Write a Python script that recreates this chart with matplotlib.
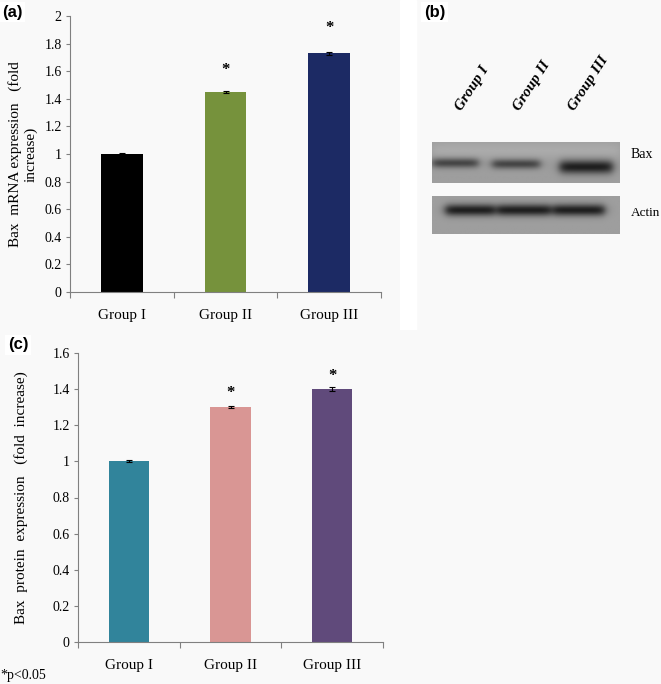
import numpy as np
import matplotlib.pyplot as plt
import matplotlib as mpl

mpl.rcParams['font.family'] = 'Liberation Serif'

# data
groups = ['Group I', 'Group II', 'Group III']
mrna = [1.0, 1.45, 1.73]
mrna_err = [0.005, 0.01, 0.012]
mrna_star = [None, 1.61, 1.91]
prot = [1.0, 1.30, 1.40]
prot_err = [0.005, 0.007, 0.012]
prot_star = [None, 1.38, 1.47]
mrna_cols = ['#000000', '#76923c', '#1c2a64']
prot_cols = ['#31849b', '#d99694', '#604a7b']
blot_rows = ['Bax', 'Actin']

W, H = 661, 684
fig = plt.figure(figsize=(W / 100, H / 100), dpi=100, facecolor='#f9f9f9')


def px_axes(x0, y0, x1, y1):
    ax = fig.add_axes([x0 / W, 1 - y1 / H, (x1 - x0) / W, (y1 - y0) / H])
    ax.set_facecolor('none')
    return ax


def bar_panel(ax, vals, errs, stars, cols, ymax, ystep, ylabel, labx):
    x = np.arange(len(vals)) + 0.5
    ax.bar(x, vals, width=0.4, color=cols, yerr=errs, capsize=2.5,
           error_kw=dict(elinewidth=0.8, capthick=0.8, ecolor='black'))
    for xi, s in zip(x, stars):
        if s is not None:
            ax.text(xi, s, '*', ha='center', va='center', fontsize=12, fontweight='bold')
    ax.set_xlim(0, 3)
    ax.set_ylim(0, ymax)
    ax.set_xticks([0, 1, 2, 3])
    ax.set_xticklabels([])
    ax.set_xticks(x, minor=True)
    ax.set_xticklabels(groups, minor=True, fontsize=11)
    ax.tick_params(axis='x', which='minor', length=0, pad=12)
    ax.tick_params(axis='x', which='major', length=4, color='#808080')
    ticks = np.round(np.arange(0, ymax + 1e-9, ystep), 1)
    ax.set_yticks(ticks)
    ax.set_yticklabels(['%g' % t for t in ticks], fontsize=10)
    ax.tick_params(axis='y', length=3, color='#808080', pad=3)
    for s in ['top', 'right']:
        ax.spines[s].set_visible(False)
    for s in ['left', 'bottom']:
        ax.spines[s].set_color('#808080')
    ax.set_ylabel(ylabel, fontsize=11)
    ax.yaxis.set_label_coords(labx, 0.5)


ax_a = px_axes(70, 16, 381, 292)
bar_panel(ax_a, mrna, mrna_err, mrna_star, mrna_cols, 2, 0.2,
          'Bax  mRNA expression   (fold\nincrease)', -0.103)

ax_c = px_axes(78, 353, 383, 642)
bar_panel(ax_c, prot, prot_err, prot_star, prot_cols, 1.6, 0.2,
          'Bax  protein  expression   (fold  increase)', -0.164)

# panel b: blot picture
ax_b = px_axes(400, 0, 661, 330)
ax_b.set_xlim(400, 661)
ax_b.set_ylim(330, 0)
ax_b.axis('off')
ax_b.add_patch(plt.Rectangle((400, 0), 16, 330, color='white', zorder=0))


def blot(x0, x1, y0, y1, bands):
    xs = np.linspace(x0, x1, 200)
    ys = np.linspace(y0, y1, 60)
    X, Y = np.meshgrid(xs, ys)
    img = np.full(X.shape, 0.62)
    for bx0, bx1, by, bh, depth in bands:
        lane = 1 / (1 + np.exp(-(X - bx0) / 2.5)) * 1 / (1 + np.exp((X - bx1) / 2.5))
        img -= depth * lane * np.exp(-((Y - by) / bh) ** 2)
    ax_b.imshow(np.clip(img, 0.1, 1), cmap='gray', vmin=0, vmax=1, extent=(x0, x1, y1, y0),
                aspect='auto', interpolation='bilinear', zorder=1)


blot(432, 620, 142, 183, [(432, 478, 163, 5, 0.35), (492, 540, 164, 5, 0.35),
                          (560, 613, 167, 7, 0.5), (432, 620, 150, 8, -0.05)])
blot(432, 620, 196, 234, [(445, 495, 210, 6, 0.5), (497, 551, 210, 6, 0.5),
                          (553, 605, 210, 6, 0.5)])
ax_b.text(631, 155, blot_rows[0], fontsize=10, va='center', ha='left')
ax_b.text(631, 213, blot_rows[1], fontsize=9.5, va='center', ha='left')
for gx, g in zip([464, 522, 577], groups):
    ax_b.text(gx, 113, g, rotation=57, rotation_mode='anchor', ha='left', va='bottom',
              fontsize=11, fontweight='bold', fontstyle='italic')

# panel letters
for lx, ly, l in [(2, 12, '(a)'), (424, 12, '(b)'), (8, 345, '(c)')]:
    fig.text(lx / W, 1 - ly / H, l, family='Liberation Sans', fontweight='bold',
             fontsize=12, va='center', ha='left',
             bbox=dict(facecolor='white', edgecolor='none', pad=2))
fig.text(0 / W, 1 - 676 / H, '*p<0.05', fontsize=10, va='center', ha='left')

fig.savefig('out.png', dpi=100, facecolor=fig.get_facecolor())
